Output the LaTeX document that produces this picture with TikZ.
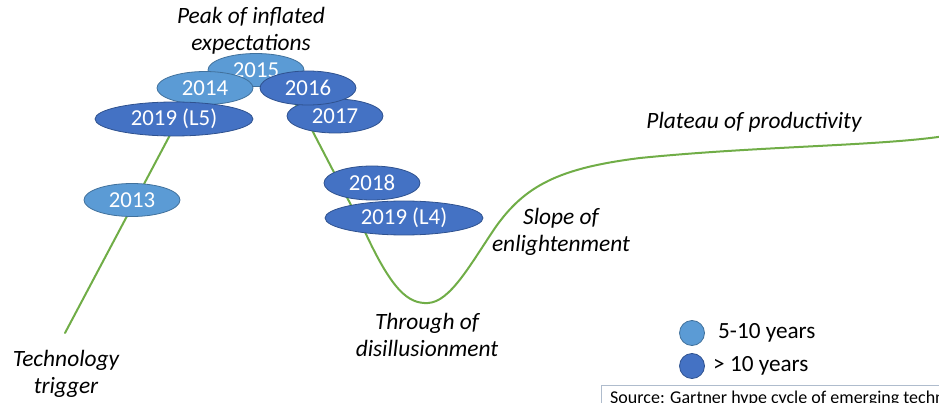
\documentclass[tikz,border=0pt]{standalone}
\usepackage{fontspec}
\usepackage{tikz}
\setmainfont{Carlito}
\usetikzlibrary{calc}
\usetikzlibrary{shapes.geometric}
\definecolor{yearlightfill}{HTML}{5B9BD5}
\definecolor{yearlightline}{HTML}{41719C}
\definecolor{yeardarkfill}{HTML}{4472C4}
\definecolor{yeardarkline}{HTML}{2F528F}
\definecolor{hypegreen}{HTML}{70AD47}
\definecolor{sourceframe}{HTML}{AFBCCD}
\tikzset{
  phase/.style={font=\fontsize{23.4}{27}\selectfont\itshape, align=center, inner sep=0pt},
  yearlight/.style={ellipse, draw=yearlightline, fill=yearlightfill, line width=0.8pt, text=white, font=\fontsize{22.8}{26}\selectfont, minimum width=96pt, minimum height=33pt, inner sep=0pt},
  yeardark/.style={ellipse, draw=yeardarkline, fill=yeardarkfill, line width=0.8pt, text=white, font=\fontsize{22.8}{26}\selectfont, minimum width=96pt, minimum height=34pt, inner sep=0pt},
  yearwide/.style={minimum width=158pt},
  legenddot/.style={circle, minimum size=25pt, inner sep=0pt, line width=0.8pt},
  legendtext/.style={anchor=west, font=\fontsize{23.2}{27}\selectfont, inner sep=0pt}
}

\begin{document}
\begin{tikzpicture}[line cap=round,line join=round,x=1pt,y=-1pt]
            \useasboundingbox (0,0) rectangle (939,403);
            \clip (0,0) rectangle (939,403);
            % hype curve
            \draw [line width=2pt,color=hypegreen] (65,333) -- (170,135)
                .. controls (210,60) and (280,60) .. (313,132) -- (365,232)
                .. controls (392,290) and (408,304) .. (428,303)
                .. controls (450,302) and (470,265) .. (495,228)
                .. controls (525,185) and (560,168) .. (640,158)
                .. controls (760,146) and (880,146) .. (945,136);
            % phases
            \node[phase] (peak) at (251,31) {Peak of inflated\\expectations};
            \node[phase] (trigger) at (66,374) {Technology\\trigger};
            \node[phase] (trough) at (427,335) {Through of\\disillusionment};
            \node[phase] (slope) at (561,232) {Slope of\\enlightenment};
            \node[phase] (plateau) at (754,122) {Plateau of productivity};
            % years
            \node[yearlight] (y2013) at (132,200) {2013};
            \node[yearlight] (y2015) at (256,70) {2015};
            \node[yearlight] (y2014) at (205,88) {2014};
            \node[yeardark] (y2017) at (335,116) {2017};
            \node[yeardark] (y2016) at (308,88) {2016};
            \node[yeardark,yearwide] (y2019a) at (174,119) {2019 (L5)};
            \node[yeardark] (y2018) at (372,183) {2018};
            \node[yeardark,yearwide] (y2019b) at (404,218) {2019 (L4)};
            % legend
            \node[legenddot,draw=yearlightline,fill=yearlightfill] (dotlight) at (692,333) {};
            \node[legenddot,draw=yeardarkline,fill=yeardarkfill] (dotdark) at (692,366) {};
            \node[legendtext] (keylight) at (718,333) {5-10 years};
            \node[legendtext] (keydark) at (713,366) {> 10 years};
            % source
            \draw [line width=0.8pt,color=sourceframe] (960,385) -- (601,385) -- (601,420);
            \node[anchor=north west, inner sep=0pt, font=\fontsize{18}{22}\selectfont] (source) at (610,391) {Source: Gartner hype cycle of emerging technologies};
            \end{tikzpicture}
\end{document}
